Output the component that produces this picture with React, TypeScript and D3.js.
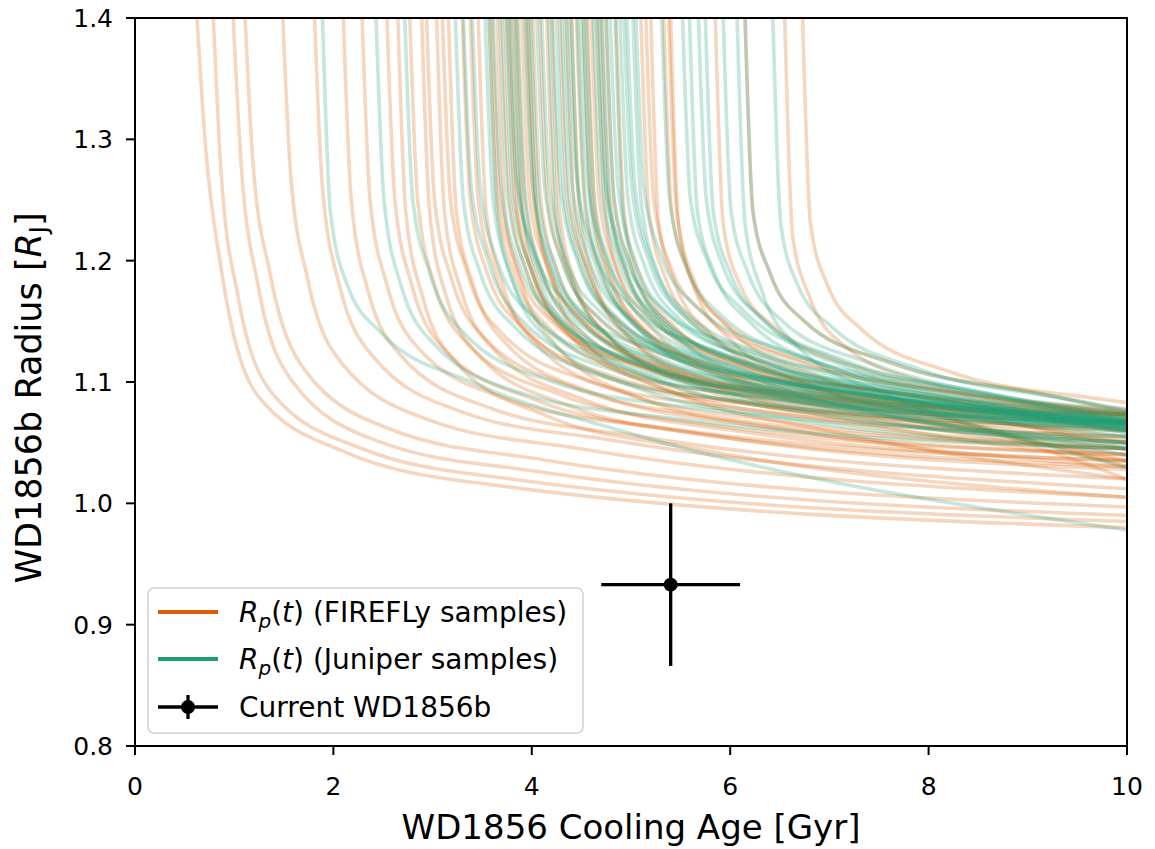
import React from 'react';
import * as d3 from 'd3';

const W = 1155;
const H = 849;
const margin = { left: 135, right: 28, top: 18, bottom: 103 };

// Each curve: [age where R = 1.4, R at age+0.08, +0.25, +0.6, +1.5, +3 Gyr, R at 10 Gyr]
const ageOffsets = [0, 0.08, 0.25, 0.6, 1.5, 3];
const topRadius = 1.4;
const endAge = 10;

const fireflyCurves: number[][] = [
  [0.625, 1.30, 1.19, 1.09, 1.042, 1.015, 0.980],
  [0.79, 1.27, 1.17, 1.09, 1.045, 1.02, 0.985],
  [0.99, 1.28, 1.18, 1.10, 1.05, 1.027, 0.99],
  [1.11, 1.28, 1.19, 1.11, 1.06, 1.036, 0.997],
  [1.49, 1.27, 1.185, 1.115, 1.068, 1.045, 1.005],
  [1.81, 1.26, 1.18, 1.12, 1.075, 1.052, 1.012],
  [2.10, 1.25, 1.175, 1.12, 1.078, 1.055, 1.02],
  [2.29, 1.25, 1.18, 1.125, 1.085, 1.062, 1.03],
  [2.54, 1.25, 1.18, 1.125, 1.085, 1.06, 1.035],
  [2.65, 1.24, 1.17, 1.115, 1.072, 1.045, 1.005],
  [2.77, 1.25, 1.18, 1.13, 1.09, 1.065, 1.04],
  [2.89, 1.24, 1.17, 1.12, 1.08, 1.055, 1.028],
  [2.94, 1.25, 1.185, 1.135, 1.095, 1.07, 1.045],
  [3.04, 1.24, 1.175, 1.125, 1.085, 1.06, 1.035],
  [3.10, 1.25, 1.19, 1.14, 1.10, 1.078, 1.055],
  [3.16, 1.24, 1.18, 1.13, 1.09, 1.065, 1.04],
  [3.30, 1.25, 1.19, 1.145, 1.105, 1.082, 1.062],
  [3.38, 1.25, 1.19, 1.14, 1.10, 1.08, 1.06],
  [3.46, 1.24, 1.18, 1.13, 1.09, 1.068, 1.045],
  [3.57, 1.25, 1.19, 1.145, 1.105, 1.085, 1.066],
  [3.60, 1.25, 1.195, 1.15, 1.112, 1.09, 1.073],
  [3.65, 1.24, 1.18, 1.13, 1.085, 1.06, 1.03],
  [3.70, 1.25, 1.19, 1.145, 1.11, 1.088, 1.072],
  [3.75, 1.25, 1.19, 1.145, 1.11, 1.09, 1.07],
  [3.78, 1.24, 1.185, 1.14, 1.10, 1.075, 1.05],
  [3.82, 1.24, 1.18, 1.135, 1.095, 1.07, 1.045],
  [3.85, 1.25, 1.19, 1.145, 1.107, 1.085, 1.065],
  [3.90, 1.25, 1.195, 1.15, 1.11, 1.09, 1.072],
  [3.94, 1.25, 1.19, 1.148, 1.11, 1.087, 1.068],
  [3.97, 1.24, 1.18, 1.13, 1.09, 1.06, 1.02],
  [4.01, 1.25, 1.19, 1.145, 1.105, 1.082, 1.06],
  [4.08, 1.25, 1.195, 1.152, 1.115, 1.092, 1.073],
  [4.15, 1.24, 1.185, 1.14, 1.10, 1.075, 1.05],
  [4.20, 1.24, 1.18, 1.135, 1.095, 1.068, 1.035],
  [4.28, 1.25, 1.195, 1.15, 1.115, 1.095, 1.074],
  [4.35, 1.24, 1.185, 1.14, 1.10, 1.076, 1.052],
  [4.40, 1.24, 1.18, 1.135, 1.095, 1.07, 1.04],
  [4.45, 1.25, 1.19, 1.148, 1.11, 1.086, 1.066],
  [4.52, 1.25, 1.19, 1.145, 1.105, 1.08, 1.055],
  [4.56, 1.24, 1.185, 1.14, 1.10, 1.072, 1.045],
  [4.60, 1.25, 1.195, 1.152, 1.115, 1.092, 1.073],
  [4.66, 1.24, 1.18, 1.14, 1.10, 1.075, 1.035],
  [4.70, 1.25, 1.19, 1.148, 1.11, 1.084, 1.062],
  [4.75, 1.25, 1.195, 1.15, 1.113, 1.09, 1.073],
  [4.85, 1.24, 1.185, 1.145, 1.107, 1.08, 1.05],
  [5.10, 1.24, 1.185, 1.145, 1.11, 1.085, 1.06],
  [5.15, 1.25, 1.195, 1.155, 1.118, 1.092, 1.074],
  [5.20, 1.23, 1.18, 1.14, 1.10, 1.07, 1.03],
  [5.33, 1.24, 1.19, 1.15, 1.115, 1.09, 1.073],
  [5.38, 1.24, 1.185, 1.145, 1.105, 1.075, 1.045],
  [5.40, 1.23, 1.175, 1.135, 1.095, 1.065, 1.02],
  [5.85, 1.23, 1.18, 1.145, 1.11, 1.085, 1.075],
  [6.15, 1.24, 1.19, 1.15, 1.115, 1.09, 1.076],
  [6.55, 1.22, 1.17, 1.13, 1.098, 1.08, 1.078],
  [6.73, 1.23, 1.18, 1.143, 1.108, 1.086, 1.083],
];

const juniperCurves: number[][] = [
  [1.89, 1.24, 1.18, 1.14, 1.10, 1.06, 0.978],
  [2.43, 1.25, 1.18, 1.13, 1.09, 1.07, 1.045],
  [2.72, 1.25, 1.19, 1.14, 1.10, 1.078, 1.055],
  [3.23, 1.25, 1.19, 1.145, 1.105, 1.083, 1.062],
  [3.31, 1.26, 1.20, 1.15, 1.11, 1.088, 1.065],
  [3.40, 1.26, 1.20, 1.155, 1.115, 1.09, 1.066],
  [3.53, 1.25, 1.19, 1.145, 1.108, 1.085, 1.063],
  [3.57, 1.24, 1.18, 1.135, 1.095, 1.07, 1.045],
  [3.61, 1.26, 1.20, 1.155, 1.115, 1.09, 1.067],
  [3.68, 1.25, 1.195, 1.15, 1.112, 1.087, 1.064],
  [3.73, 1.25, 1.195, 1.15, 1.112, 1.088, 1.064],
  [3.76, 1.27, 1.21, 1.165, 1.125, 1.098, 1.072],
  [3.79, 1.26, 1.20, 1.155, 1.117, 1.092, 1.068],
  [3.83, 1.24, 1.185, 1.14, 1.10, 1.074, 1.05],
  [3.86, 1.25, 1.19, 1.145, 1.105, 1.08, 1.05],
  [3.93, 1.26, 1.20, 1.155, 1.115, 1.09, 1.066],
  [3.96, 1.25, 1.19, 1.145, 1.107, 1.083, 1.059],
  [3.99, 1.25, 1.195, 1.15, 1.11, 1.087, 1.062],
  [4.05, 1.26, 1.20, 1.155, 1.118, 1.093, 1.069],
  [4.10, 1.26, 1.20, 1.157, 1.118, 1.092, 1.068],
  [4.17, 1.24, 1.18, 1.138, 1.098, 1.072, 1.048],
  [4.21, 1.26, 1.20, 1.155, 1.117, 1.092, 1.067],
  [4.25, 1.25, 1.195, 1.15, 1.11, 1.085, 1.06],
  [4.30, 1.25, 1.195, 1.15, 1.113, 1.088, 1.066],
  [4.33, 1.26, 1.20, 1.155, 1.115, 1.09, 1.065],
  [4.37, 1.27, 1.21, 1.165, 1.125, 1.098, 1.073],
  [4.40, 1.25, 1.195, 1.152, 1.115, 1.09, 1.066],
  [4.46, 1.25, 1.19, 1.145, 1.105, 1.075, 1.04],
  [4.49, 1.26, 1.205, 1.16, 1.12, 1.093, 1.068],
  [4.52, 1.24, 1.185, 1.14, 1.10, 1.073, 1.05],
  [4.55, 1.25, 1.195, 1.15, 1.112, 1.087, 1.063],
  [4.62, 1.26, 1.20, 1.155, 1.115, 1.09, 1.066],
  [4.65, 1.27, 1.21, 1.165, 1.127, 1.10, 1.074],
  [4.68, 1.25, 1.195, 1.153, 1.116, 1.09, 1.067],
  [4.71, 1.25, 1.19, 1.145, 1.108, 1.08, 1.055],
  [4.75, 1.25, 1.195, 1.15, 1.112, 1.086, 1.064],
  [4.79, 1.26, 1.20, 1.155, 1.118, 1.09, 1.069],
  [4.84, 1.24, 1.18, 1.14, 1.10, 1.07, 1.045],
  [4.89, 1.25, 1.195, 1.152, 1.115, 1.088, 1.065],
  [4.93, 1.26, 1.20, 1.155, 1.117, 1.09, 1.067],
  [4.96, 1.26, 1.20, 1.157, 1.12, 1.092, 1.068],
  [5.02, 1.25, 1.19, 1.148, 1.11, 1.083, 1.06],
  [5.05, 1.26, 1.205, 1.163, 1.125, 1.097, 1.075],
  [5.31, 1.25, 1.195, 1.155, 1.118, 1.09, 1.07],
  [5.52, 1.25, 1.20, 1.16, 1.12, 1.092, 1.07],
  [5.59, 1.24, 1.19, 1.15, 1.11, 1.08, 1.058],
  [5.68, 1.25, 1.195, 1.155, 1.117, 1.088, 1.066],
  [5.75, 1.24, 1.19, 1.15, 1.11, 1.08, 1.06],
  [5.93, 1.24, 1.19, 1.15, 1.115, 1.085, 1.068],
  [6.07, 1.23, 1.175, 1.13, 1.09, 1.05, 1.03],
  [6.15, 1.24, 1.19, 1.15, 1.115, 1.09, 1.077],
  [6.43, 1.23, 1.18, 1.145, 1.11, 1.085, 1.075],
];

const xTicks = [0, 2, 4, 6, 8, 10];
const yTicks = [0.8, 0.9, 1.0, 1.1, 1.2, 1.3, 1.4];

// current WD1856b measurement
const currentAge = 5.4;
const currentAgeErr = 0.7;
const currentRadius = 0.933;
const currentRadiusErr = 0.067;

const orange = '#d95f02';
const green = '#1b9e77';
const font = 'DejaVu Sans, sans-serif';

const toPoints = (row: number[]): [number, number][] => {
  const t0 = row[0];
  const pts: [number, number][] = ageOffsets.map((dt, i) => [t0 + dt, i === 0 ? topRadius : row[i]]);
  pts.push([endAge, row[row.length - 1]]);
  return pts;
};

const App = () => {
  const x = d3.scaleLinear().domain([0, 10]).range([margin.left, W - margin.right]);
  const y = d3.scaleLinear().domain([0.8, 1.4]).range([H - margin.bottom, margin.top]);

  const line = d3.line<[number, number]>()
    .x(d => x(d[0]))
    .y(d => y(d[1]))
    .curve(d3.curveMonotoneX);

  const x0 = x.range()[0], x1 = x.range()[1];
  const y0 = y.range()[1], y1 = y.range()[0];

  const lx = 148, ly = 588;

  return (
    <div style={{ position: 'absolute', left: 0, top: 0 }}>
      <svg width={W} height={H} style={{ display: 'block', fontFamily: font }}>
        <defs>
          <clipPath id="plot-clip">
            <rect x={x0} y={y0} width={x1 - x0} height={y1 - y0} />
          </clipPath>
        </defs>
        <rect width={W} height={H} fill="white" />

        <g clipPath="url(#plot-clip)" fill="none" strokeWidth={3.6} strokeOpacity={0.25}>
          {fireflyCurves.map((c, i) => (
            <path key={'f' + i} d={line(toPoints(c)) || ''} stroke={orange} />
          ))}
          {juniperCurves.map((c, i) => (
            <path key={'j' + i} d={line(toPoints(c)) || ''} stroke={green} />
          ))}
        </g>

        {/* current radius and age */}
        <g stroke="black" strokeWidth={3.3}>
          <line x1={x(currentAge - currentAgeErr)} x2={x(currentAge + currentAgeErr)} y1={y(currentRadius)} y2={y(currentRadius)} />
          <line x1={x(currentAge)} x2={x(currentAge)} y1={y(currentRadius - currentRadiusErr)} y2={y(currentRadius + currentRadiusErr)} />
        </g>
        <circle cx={x(currentAge)} cy={y(currentRadius)} r={7} fill="black" />

        {/* axes */}
        <rect x={x0} y={y0} width={x1 - x0} height={y1 - y0} fill="none" stroke="black" strokeWidth={2} />
        {xTicks.map(t => (
          <g key={'x' + t}>
            <line x1={x(t)} x2={x(t)} y1={y1} y2={y1 + 9} stroke="black" strokeWidth={2} />
            <text x={x(t)} y={795} textAnchor="middle" fontSize={25}>{t}</text>
          </g>
        ))}
        {yTicks.map(t => (
          <g key={'y' + t}>
            <line x1={x0 - 9} x2={x0} y1={y(t)} y2={y(t)} stroke="black" strokeWidth={2} />
            <text x={113} y={y(t) + 9} textAnchor="end" fontSize={25}>{d3.format('.1f')(t)}</text>
          </g>
        ))}
        <text x={(x0 + x1) / 2} y={839} textAnchor="middle" fontSize={34}>WD1856 Cooling Age [Gyr]</text>
        <text transform="translate(41,398) rotate(-90)" textAnchor="middle" fontSize={35}>
          WD1856b Radius [<tspan fontStyle="italic">R</tspan>
          <tspan fontSize={24} dy={6}>J</tspan>
          <tspan dy={-6}>]</tspan>
        </text>

        {/* legend */}
        <rect x={lx} y={ly} width={435} height={145} rx={6} fill="white" fillOpacity={0.8} stroke="#d0d0d0" strokeWidth={1.5} />
        <line x1={158} x2={218} y1={612} y2={612} stroke={orange} strokeWidth={3.8} />
        <line x1={158} x2={218} y1={659} y2={659} stroke={green} strokeWidth={3.8} />
        <line x1={158} x2={218} y1={707} y2={707} stroke="black" strokeWidth={3.3} />
        <line x1={188} x2={188} y1={695} y2={719} stroke="black" strokeWidth={3.3} />
        <circle cx={188} cy={707} r={7} fill="black" />
        <text x={239} y={622} fontSize={28}>
          <tspan fontStyle="italic">R</tspan>
          <tspan fontStyle="italic" fontSize={20} dy={6}>p</tspan>
          <tspan dy={-6}>(</tspan><tspan fontStyle="italic">t</tspan>{') (FIREFLy samples)'}
        </text>
        <text x={239} y={669} fontSize={28}>
          <tspan fontStyle="italic">R</tspan>
          <tspan fontStyle="italic" fontSize={20} dy={6}>p</tspan>
          <tspan dy={-6}>(</tspan><tspan fontStyle="italic">t</tspan>{') (Juniper samples)'}
        </text>
        <text x={239} y={717} fontSize={28}>Current WD1856b</text>
      </svg>
    </div>
  );
};

export default App;
